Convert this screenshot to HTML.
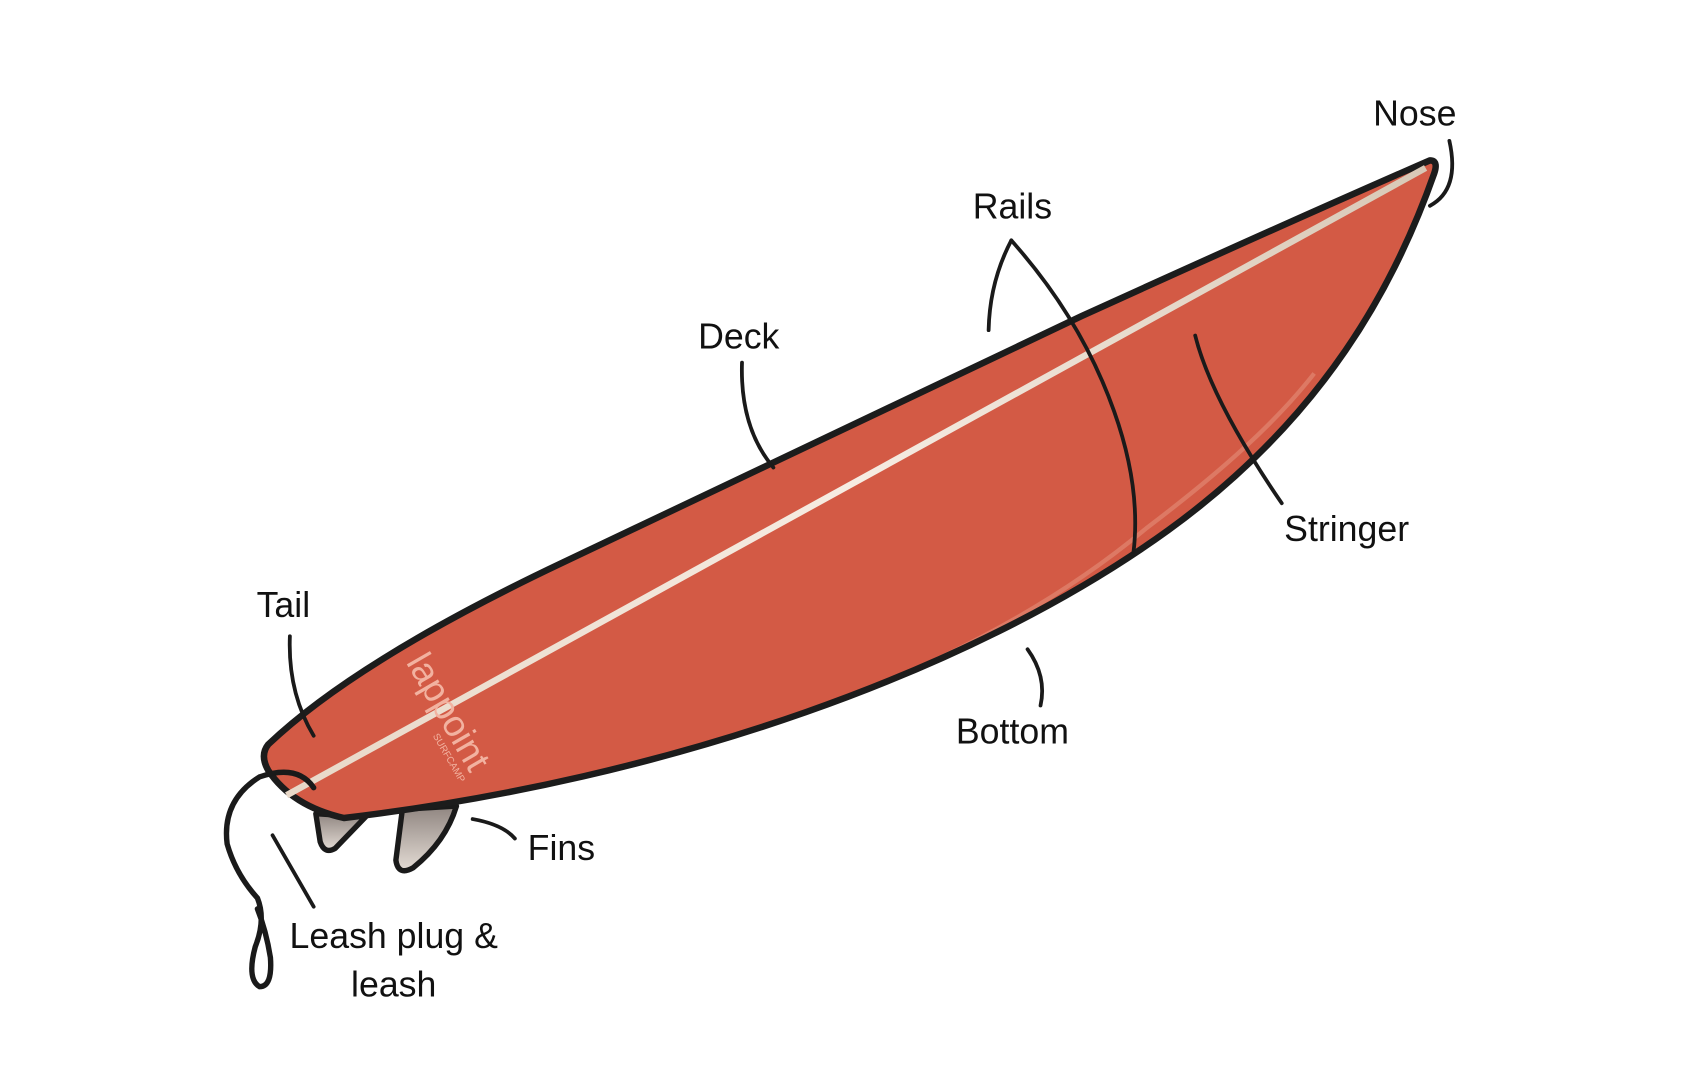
<!DOCTYPE html>
<html><head><style>
html,body{margin:0;padding:0;background:#fff;}
svg{display:block;}
text{font-family:"Liberation Sans","DejaVu Sans",sans-serif;font-size:33px;fill:#111;}
</style></head><body>
<svg width="1696" height="1080" viewBox="0 0 1568 998" xmlns="http://www.w3.org/2000/svg">
<defs>
<linearGradient id="fin" x1="0" y1="0" x2="0" y2="1">
<stop offset="0" stop-color="#8f8580"/><stop offset="1" stop-color="#e4dcd5"/>
</linearGradient>
<linearGradient id="str" x1="0" y1="1" x2="1" y2="0">
<stop offset="0" stop-color="#e8d8c8"/><stop offset="0.5" stop-color="#f6ece2"/><stop offset="1" stop-color="#d8c8b6"/>
</linearGradient>
<clipPath id="bc"><path d="M248,688 Q330,610 520,520 Q760,405 1000,292 Q1180,210 1322,148 Q1330,148 1326,160 C1290,262 1225,385 1080,490 C900,620 620,720 318,756 Q270,745 248,712 Q240,698 248,688 Z"/></clipPath>
</defs>
<!-- fins -->
<path d="M292,752 L296,778 Q300,790 310,784 L338,755 Z" fill="url(#fin)" stroke="#1a1a1a" stroke-width="5" stroke-linejoin="round"/>
<path d="M372,748 L366,795 Q368,810 382,802 Q412,778 422,745 Z" fill="url(#fin)" stroke="#1a1a1a" stroke-width="5" stroke-linejoin="round"/>
<!-- board -->
<path d="M248,688 Q330,610 520,520 Q760,405 1000,292 Q1180,210 1322,148 Q1330,148 1326,160 C1290,262 1225,385 1080,490 C900,620 620,720 318,756 Q270,745 248,712 Q240,698 248,688 Z" fill="#d35a45"/>
<!-- bottom highlight (clipped inside) -->
<g clip-path="url(#bc)">
<path d="M600,705 C800,650 950,580 1060,488 C1130,435 1180,390 1215,345" fill="none" stroke="#e8a08a" stroke-width="4" opacity="0.45"/>
</g>
<path d="M248,688 Q330,610 520,520 Q760,405 1000,292 Q1180,210 1322,148 Q1330,148 1326,160 C1290,262 1225,385 1080,490 C900,620 620,720 318,756 Q270,745 248,712 Q240,698 248,688 Z" fill="none" stroke="#1c1c1c" stroke-width="6" stroke-linejoin="round"/>
<!-- stringer -->
<path d="M265,735 L1318,155" stroke="url(#str)" stroke-width="6" fill="none"/>
<!-- logo -->
<text transform="translate(375,612) rotate(60)" style="font-size:34px;fill:#f2b2a0;">lappoint</text>
<text transform="translate(400,680) rotate(60)" style="font-size:9px;fill:#f2b2a0;">SURFCAMP</text>
<!-- leash -->
<path d="M290,728 Q275,706 240,718 Q205,740 210,780 Q218,808 238,830 Q246,850 236,875 Q228,905 240,912 Q252,912 250,885 Q246,860 238,840" fill="none" stroke="#1a1a1a" stroke-width="5" stroke-linecap="round"/>
<!-- connectors -->
<g fill="none" stroke="#1a1a1a" stroke-width="3.5" stroke-linecap="round">
<path d="M1340,130 Q1350,175 1322,190"/>
<path d="M935,222 Q915,260 914,305"/>
<path d="M935,222 Q1000,295 1030,380 Q1055,450 1048,510"/>
<path d="M686,335 Q684,395 715,432"/>
<path d="M1105,310 Q1120,370 1185,465"/>
<path d="M268,588 Q266,640 290,680"/>
<path d="M950,600 Q968,625 962,652"/>
<path d="M437,757 Q465,762 476,775"/>
<path d="M252,772 L290,838"/>
</g>
<!-- labels -->
<text x="1308" y="116" text-anchor="middle">Nose</text>
<text x="936" y="202" text-anchor="middle">Rails</text>
<text x="683" y="322" text-anchor="middle">Deck</text>
<text x="1245" y="500" text-anchor="middle">Stringer</text>
<text x="262" y="570" text-anchor="middle">Tail</text>
<text x="936" y="687" text-anchor="middle">Bottom</text>
<text x="519" y="795" text-anchor="middle">Fins</text>
<text x="364" y="876" text-anchor="middle">Leash plug &amp;</text>
<text x="364" y="921" text-anchor="middle">leash</text>
</svg>
</body></html>
